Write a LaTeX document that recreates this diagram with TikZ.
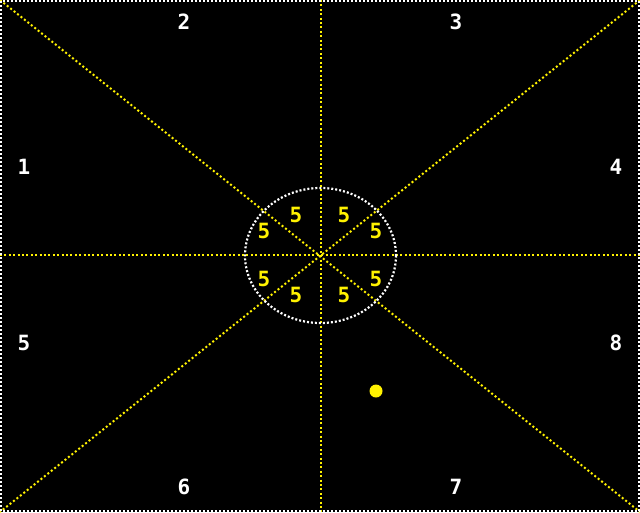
\documentclass[tikz,border=0pt]{standalone}
\usepackage{fontspec}
\setmainfont{DejaVu Sans Mono}
\begin{document}
\begin{tikzpicture}[x=1pt,y=-1pt,
  ydot/.style={draw=yellow, line width=2pt, dash pattern=on 2pt off 2.4pt},
  wdot/.style={draw=white, line width=2.2pt, dash pattern=on 2pt off 2pt},
  wnum/.style={text=white, font=\fontsize{21}{23}\selectfont\bfseries, inner sep=0pt},
  ynum/.style={text=yellow, font=\fontsize{21}{23}\selectfont\bfseries, inner sep=0pt}]
\fill[black] (0,0) rectangle (640,512);
\useasboundingbox (0,0) rectangle (640,512);
\coordinate (tl) at (0,0);
\coordinate (tr) at (640,0);
\coordinate (bl) at (0,512);
\coordinate (br) at (640,512);
\coordinate (tm) at (320.5,0);
\coordinate (bm) at (320.5,512);
\coordinate (lm) at (0,254.5);
\coordinate (rm) at (640,254.5);
\draw[ydot] (tl) -- (br);
\draw[ydot] (tr) -- (bl);
\draw[ydot] (tm) -- (bm);
\draw[ydot] (lm) -- (rm);
\draw[wdot] (1,1) rectangle (639,511);
\draw[wdot] (320.5,255.5) ellipse [x radius=75.5, y radius=67.5];
\node[wnum] (n1) at (24,167) {1};
\node[wnum] (n2) at (184,22) {2};
\node[wnum] (n3) at (456,22) {3};
\node[wnum] (n4) at (616,167) {4};
\node[wnum] (n5) at (24,343) {5};
\node[wnum] (n6) at (184,487) {6};
\node[wnum] (n7) at (456,487) {7};
\node[wnum] (n8) at (616,343) {8};
\node[ynum] (a1) at (296,215) {5};
\node[ynum] (a2) at (344,215) {5};
\node[ynum] (a3) at (264,231) {5};
\node[ynum] (a4) at (376,231) {5};
\node[ynum] (a5) at (264,279) {5};
\node[ynum] (a6) at (376,279) {5};
\node[ynum] (a7) at (296,295) {5};
\node[ynum] (a8) at (344,295) {5};
\fill[yellow] (376,391) circle (6.5);
\end{tikzpicture}
\end{document}
